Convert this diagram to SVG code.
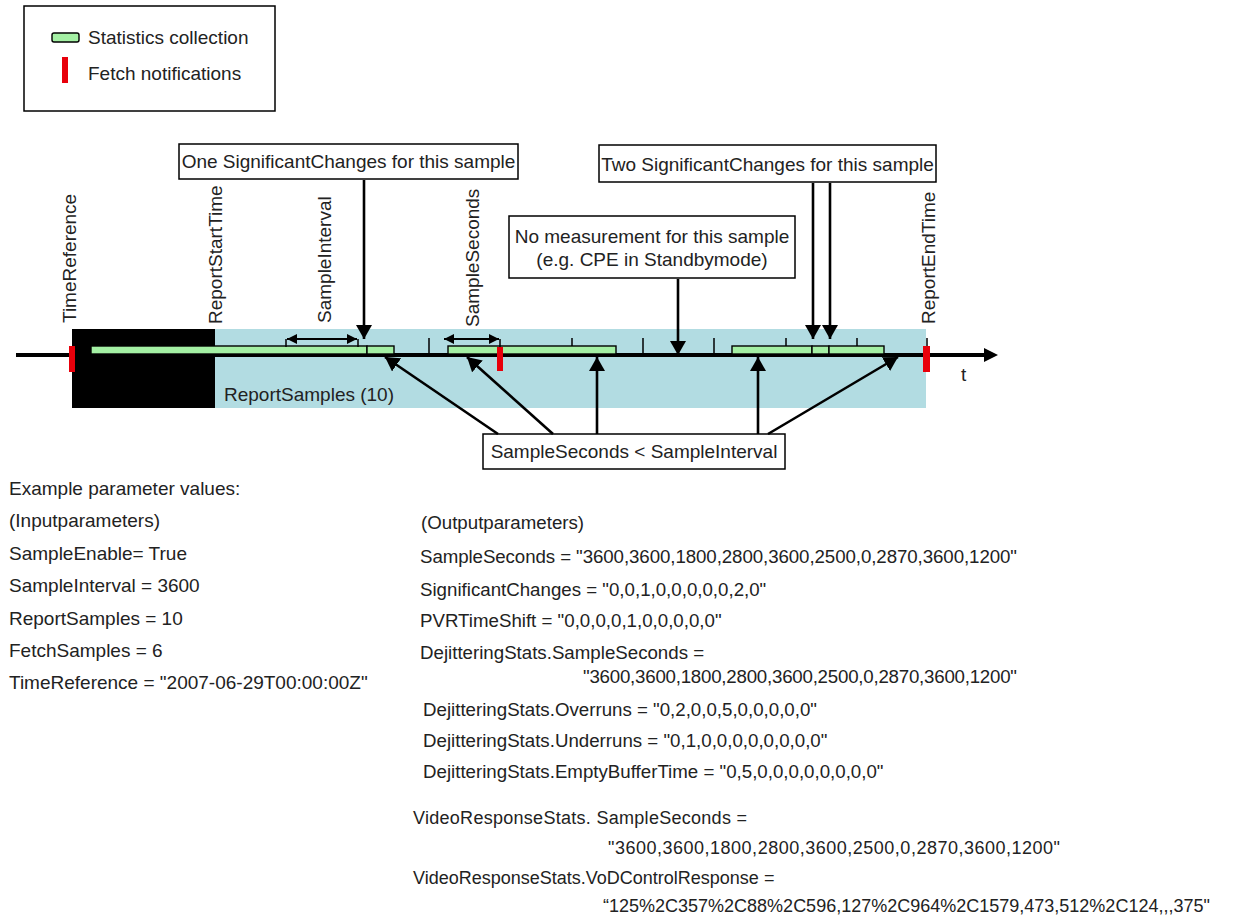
<svg xmlns="http://www.w3.org/2000/svg" width="1252" height="915" viewBox="0 0 1252 915">
<style>
text{font-family:"Liberation Sans",Arial,sans-serif;font-size:19px;fill:#222}
.t{font-size:18.7px}
.v{font-size:18px}
.box{fill:#fff;stroke:#000;stroke-width:1.5}
.bar{fill:#a4f0a4;stroke:#000;stroke-width:1.4}
.red{fill:#e8000b}
.tick{stroke:#000;stroke-width:1.5}
.c{stroke:#000;stroke-width:2.6;fill:none}
.d{stroke:#000;stroke-width:2.2;fill:none}
</style>
<defs>
<marker id="ah" markerUnits="userSpaceOnUse" viewBox="0 0 14 16" refX="14" refY="8" markerWidth="14" markerHeight="16" orient="auto"><path d="M0,0 L14,8 L0,16 z" fill="#000"/></marker>
<marker id="sh" markerUnits="userSpaceOnUse" viewBox="0 0 10 10" refX="10" refY="5" markerWidth="10" markerHeight="10" orient="auto-start-reverse"><path d="M0,0 L10,5 L0,10 z" fill="#000"/></marker>
</defs>
<rect width="1252" height="915" fill="#fff"/>

<g id="legend">
<rect x="24" y="6" width="251" height="105" fill="#fff" stroke="#000" stroke-width="1.5"/>
<rect x="52" y="33" width="27" height="9" rx="2" class="bar"/>
<text x="88" y="44">Statistics collection</text>
<rect x="62" y="57" width="6" height="26" class="red"/>
<text x="88" y="80">Fetch notifications</text>
</g>

<g id="timeline">
<rect x="72" y="329" width="854" height="79" fill="#b2dce2"/>
<rect x="72" y="329" width="143" height="79" fill="#000"/>
<line x1="16" y1="355" x2="986" y2="355" stroke="#000" stroke-width="4"/>
<polygon points="984,348 998,355 984,362" fill="#000"/>
<g id="ticks">
<line x1="429" y1="338" x2="429" y2="355" class="tick"/>
<line x1="572" y1="338" x2="572" y2="355" class="tick"/>
<line x1="643" y1="338" x2="643" y2="355" class="tick"/>
<line x1="714" y1="338" x2="714" y2="355" class="tick"/>
<line x1="786" y1="338" x2="786" y2="355" class="tick"/>
<line x1="857" y1="338" x2="857" y2="355" class="tick"/>
<line x1="927" y1="338" x2="927" y2="355" class="tick"/>
</g>
<g id="bars">
<rect x="91" y="346" width="276" height="8" class="bar"/>
<rect x="367" y="346" width="27" height="8" class="bar"/>
<rect x="448" y="346" width="168" height="8" class="bar"/>
<rect x="732" y="346" width="80" height="8" class="bar"/>
<rect x="812" y="346" width="17" height="8" class="bar"/>
<rect x="829" y="346" width="55" height="8" class="bar"/>
</g>
<g id="fetch">
<rect x="69" y="346" width="6" height="26" class="red"/>
<rect x="497" y="347" width="6" height="24" class="red"/>
<rect x="923" y="346" width="7" height="26" class="red"/>
</g>
<text x="224" y="401">ReportSamples (10)</text>
<text x="961" y="381">t</text>
</g>

<g id="labels">
<text transform="translate(76,323) rotate(-90)">TimeReference</text>
<text transform="translate(222,324) rotate(-90)">ReportStartTime</text>
<text transform="translate(331,323) rotate(-90)">SampleInterval</text>
<text transform="translate(479,327) rotate(-90)">SampleSeconds</text>
<text transform="translate(935,324) rotate(-90)">ReportEndTime</text>
</g>

<g id="sampleinterval">
<line x1="286" y1="339" x2="286" y2="347" class="tick"/>
<line x1="358" y1="339" x2="358" y2="347" class="tick"/>
<line x1="287" y1="339" x2="357" y2="339" class="d" marker-start="url(#sh)" marker-end="url(#sh)"/>
</g>
<g id="sampleseconds">
<line x1="500" y1="339" x2="500" y2="347" class="tick"/>
<line x1="444" y1="339" x2="499" y2="339" class="d" marker-start="url(#sh)" marker-end="url(#sh)"/>
</g>

<g id="box-one">
<rect x="179" y="144" width="339" height="35" class="box"/>
<text x="348.5" y="168" text-anchor="middle">One SignificantChanges for this sample</text>
</g>
<g id="box-two">
<rect x="599" y="145" width="337" height="37" class="box"/>
<text x="767.5" y="171" text-anchor="middle">Two SignificantChanges for this sample</text>
</g>
<g id="box-none">
<rect x="509" y="216" width="286" height="62" class="box"/>
<text x="652" y="243" text-anchor="middle">No measurement for this sample</text>
<text x="652" y="266" text-anchor="middle">(e.g. CPE in Standbymode)</text>
</g>
<g id="box-less">
<rect x="483" y="434" width="302" height="35" class="box"/>
<text x="634" y="458" text-anchor="middle">SampleSeconds &lt; SampleInterval</text>
</g>

<g id="connectors">
<line x1="364" y1="180" x2="364" y2="339" class="c" marker-end="url(#ah)"/>
<line x1="813" y1="183" x2="813" y2="339" class="c" marker-end="url(#ah)"/>
<line x1="830" y1="183" x2="830" y2="339" class="c" marker-end="url(#ah)"/>
<line x1="678" y1="279" x2="678" y2="355" class="c" marker-end="url(#ah)"/>
<line x1="498" y1="434" x2="385" y2="357" class="c" marker-end="url(#ah)"/>
<line x1="553" y1="434" x2="467" y2="357" class="c" marker-end="url(#ah)"/>
<line x1="597" y1="434" x2="597" y2="357" class="c" marker-end="url(#ah)"/>
<line x1="758" y1="434" x2="758" y2="357" class="c" marker-end="url(#ah)"/>
<line x1="768" y1="434" x2="898" y2="357" class="c" marker-end="url(#ah)"/>
</g>

<g id="inputs">
<text x="9" y="495">Example parameter values:</text>
<text x="9" y="527">(Inputparameters)</text>
<text x="9" y="560">SampleEnable= True</text>
<text x="9" y="592">SampleInterval = 3600</text>
<text x="9" y="625">ReportSamples = 10</text>
<text x="9" y="657">FetchSamples = 6</text>
<text x="9" y="689">TimeReference = "2007-06-29T00:00:00Z"</text>
</g>

<g id="outputs">
<text class="t" x="421" y="529">(Outputparameters)</text>
<text class="t" x="420" y="563" textLength="597">SampleSeconds = "3600,3600,1800,2800,3600,2500,0,2870,3600,1200"</text>
<text class="t" x="420" y="596">SignificantChanges = "0,0,1,0,0,0,0,0,2,0"</text>
<text class="t" x="420" y="627">PVRTimeShift = "0,0,0,0,1,0,0,0,0,0"</text>
<text class="t" x="420" y="659">DejitteringStats.SampleSeconds =</text>
<text class="t" x="583" y="683" textLength="434">"3600,3600,1800,2800,3600,2500,0,2870,3600,1200"</text>
<text class="t" x="423" y="716">DejitteringStats.Overruns = "0,2,0,0,5,0,0,0,0,0"</text>
<text class="t" x="423" y="747">DejitteringStats.Underruns = "0,1,0,0,0,0,0,0,0,0"</text>
<text class="t" x="423" y="778">DejitteringStats.EmptyBufferTime = "0,5,0,0,0,0,0,0,0,0"</text>
<text class="v" x="413" y="824" textLength="334">VideoResponseStats. SampleSeconds =</text>
<text class="v" x="608" y="854" textLength="452">"3600,3600,1800,2800,3600,2500,0,2870,3600,1200"</text>
<text class="v" x="413" y="884">VideoResponseStats.VoDControlResponse =</text>
<text class="v" x="603" y="912">“125%2C357%2C88%2C596,127%2C964%2C1579,473,512%2C124,,,375"</text>
</g>
</svg>
